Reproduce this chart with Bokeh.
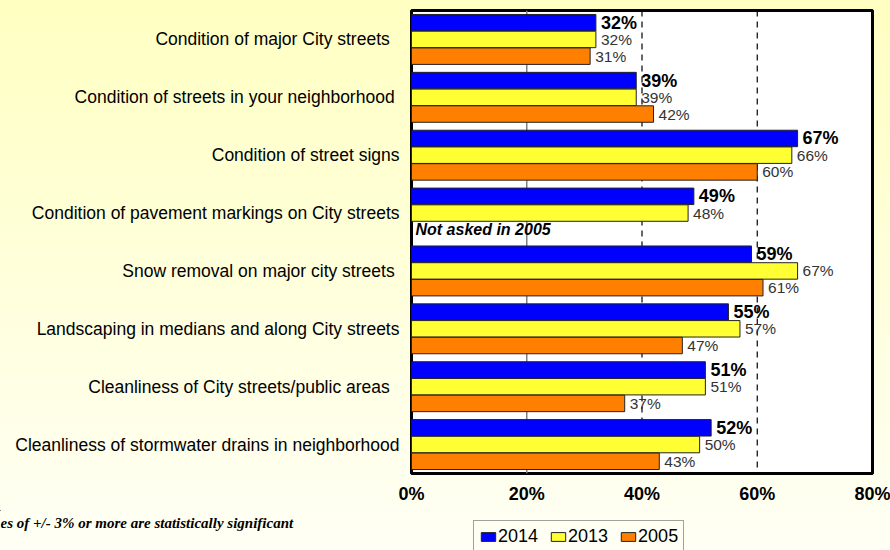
from bokeh.plotting import figure
from bokeh.layouts import column
from bokeh.models import (ColumnDataSource, Range1d, FixedTicker, Span, Label,
                          Legend, LegendItem)
from bokeh.core.properties import value
from bokeh.embed import file_html
from bokeh.resources import INLINE

# ---------------- data ----------------
categories = [
    "Condition of major City streets\u00a0\u00a0",
    "Condition of streets in your neighborhood\u00a0",
    "Condition of street signs",
    "Condition of pavement markings on City streets",
    "Snow removal on major city streets\u00a0",
    "Landscaping in medians and along City streets",
    "Cleanliness of City streets/public areas\u00a0\u00a0",
    "Cleanliness of stormwater drains in neighborhood",
]
years = ["2014", "2013", "2005"]
v2014 = [32, 39, 67, 49, 59, 55, 51, 52]
v2013 = [32, 39, 66, 48, 67, 57, 51, 50]
v2005 = [31, 42, 60, None, 61, 47, 37, 43]
colors = ["#0000FF", "#FFFF33", "#FF8000"]
x_ticks = [0, 20, 40, 60, 80]
x_tick_labels = ["0%", "20%", "40%", "60%", "80%"]
missing_note = "Not asked in 2005"
footnote = "es of +/- 3% or more are statistically significant"
corner_text = "TRENDS"

series = [v2014, v2013, v2005]
FONT = "Liberation Sans"
W, H1, H2 = 890, 510, 40

p = figure(width=W, height=H1, output_backend="svg", toolbar_location=None,
           x_range=Range1d(0, 80), y_range=Range1d(len(categories), 0),
           min_border_left=411, min_border_right=18, min_border_top=10,
           min_border_bottom=37)
p.frame_align = False

p.background_fill_color = "white"
p.border_fill_color = None
p.outline_line_color = "black"
p.outline_line_width = 3
p.xgrid.grid_line_color = None
p.ygrid.grid_line_color = None

# reference lines
p.add_layout(Span(location=20, dimension="height", line_color="#808080",
                  line_width=1.5, level="underlay"))
for loc in (40, 60):
    p.add_layout(Span(location=loc, dimension="height", line_color="black",
                      line_width=1.2, line_dash="6 5", level="underlay"))

offsets = [0.211, 0.5, 0.789]
bar_h = 0.2845
for k, (yr, vals, col) in enumerate(zip(years, series, colors)):
    ys = [i + offsets[k] for i, v in enumerate(vals) if v is not None]
    xs = [v for v in vals if v is not None]
    src = ColumnDataSource(dict(y=ys, right=xs, label=[f"{v}%" for v in xs]))
    p.hbar(y="y", left=0, right="right", height=bar_h, fill_color=col,
           line_color="#222222", line_width=1, source=src)
    if k == 0:
        p.text(x="right", y="y", text="label", source=src, x_offset=5,
               text_baseline="middle", text_align="left",
               text_font=value(FONT), text_font_size="18px",
               text_font_style="bold", text_color="black")
    else:
        p.text(x="right", y="y", text="label", source=src, x_offset=5,
               text_baseline="middle", text_align="left",
               text_font=value(FONT), text_font_size="15.5px",
               text_color="#333333")

# missing note
for i, v in enumerate(v2005):
    if v is None:
        p.add_layout(Label(x=0, y=i + offsets[2], x_offset=4, text=missing_note,
                           text_baseline="middle", text_font=FONT,
                           text_font_size="16px", text_font_style="bold italic",
                           text_color="black"))

# y axis (categories)
p.yaxis.ticker = FixedTicker(ticks=[i + 0.5 for i in range(len(categories))])
p.yaxis.major_label_overrides = {i + 0.5: c for i, c in enumerate(categories)}
p.yaxis.axis_line_color = None
p.yaxis.major_tick_line_color = None
p.yaxis.major_tick_out = 0
p.yaxis.major_tick_in = 0
p.yaxis.minor_tick_line_color = None
p.yaxis.major_label_standoff = 12
p.yaxis.major_label_text_font = FONT
p.yaxis.major_label_text_font_size = "17.5px"
p.yaxis.major_label_text_color = "black"

# x axis
p.xaxis.ticker = FixedTicker(ticks=x_ticks)
p.xaxis.major_label_overrides = {t: l for t, l in zip(x_ticks, x_tick_labels)}
p.xaxis.axis_line_color = None
p.xaxis.major_tick_line_color = None
p.xaxis.major_tick_out = 0
p.xaxis.major_tick_in = 0
p.xaxis.minor_tick_line_color = None
p.xaxis.major_label_standoff = 10
p.xaxis.major_label_text_font = FONT
p.xaxis.major_label_text_font_size = "18px"
p.xaxis.major_label_text_font_style = "bold"
p.xaxis.major_label_text_color = "black"

# ---------- bottom strip: legend + footnote ----------
p2 = figure(width=W, height=H2, output_backend="svg", toolbar_location=None,
            x_range=Range1d(0, W), y_range=Range1d(H2, 0),
            x_axis_location=None, y_axis_location=None,
            min_border_left=0, min_border_right=0, min_border_top=0,
            min_border_bottom=0)
p2.frame_align = False
p2.background_fill_color = None
p2.border_fill_color = None
p2.outline_line_color = None
p2.xgrid.grid_line_color = None
p2.ygrid.grid_line_color = None

# legend proxies: zero-size bars kept outside the visible strip
items = []
for yr, col in zip(years, colors):
    r = p2.hbar(y=[-100], left=[0], right=[0], height=0, fill_color=col,
                line_color="#222222", line_width=1)
    items.append(LegendItem(label=yr, renderers=[r]))

legend = Legend(items=items, orientation="horizontal", location=(473, -3),
                glyph_width=18, glyph_height=11, label_height=20,
                label_standoff=1, spacing=11, padding=5, margin=0,
                label_text_font=FONT, label_text_font_size="18px",
                label_text_color="black", border_line_color="#444444",
                border_line_width=1, background_fill_color=None)
p2.add_layout(legend, "center")

p2.add_layout(Label(x=0, y=12, text=footnote, text_baseline="middle",
                    text_font="Liberation Serif", text_font_size="15px",
                    text_font_style="bold italic", text_color="black"))
p2.add_layout(Label(x=800, y=37, text=corner_text, text_baseline="top",
                    text_font="Liberation Serif", text_font_size="20px",
                    text_font_style="bold", text_color="black"))

layout = column(p, p2, spacing=0)
layout.styles = {"background": "linear-gradient(to bottom, #FFFFC2 0%, #FFFFF5 100%)"}

open("out.html", "w").write(file_html(layout, INLINE))
